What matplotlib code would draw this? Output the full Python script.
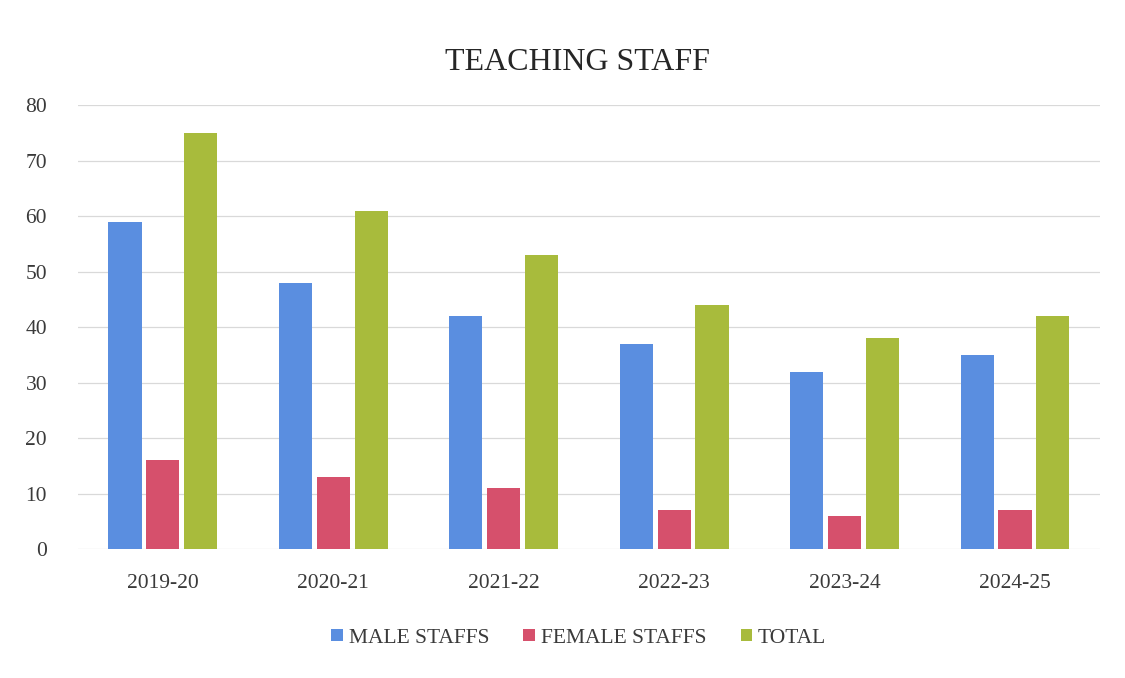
import matplotlib
matplotlib.use("Agg")
import matplotlib.pyplot as plt
import numpy as np

years = ["2019-20", "2020-21", "2021-22", "2022-23", "2023-24", "2024-25"]
male = [59, 48, 42, 37, 32, 35]
female = [16, 13, 11, 7, 6, 7]
total = [75, 61, 53, 44, 38, 42]
series_names = ["MALE STAFFS", "FEMALE STAFFS", "TOTAL"]
colors = ["#5a8ee0", "#d6506c", "#a8bb3c"]

plt.rcParams['font.family'] = ['Liberation Serif', 'DejaVu Serif']

fig = plt.figure(figsize=(11.25, 6.78), dpi=100)
ax = fig.add_axes([0.069, 0.19, 0.909, 0.655])

x = np.arange(len(years))
w = 0.195
off = 0.222
for i, (vals, name, c) in enumerate(zip([male, female, total], series_names, colors)):
    ax.bar(x + (i - 1) * off, vals, width=w, color=c, label=name, zorder=3)

ax.set_xlim(-0.5, len(years) - 0.5)
ax.set_ylim(0, 80)
ax.set_yticks(range(0, 81, 10))
ax.grid(axis='y', color='#d9d9d9', linewidth=0.9, zorder=0)
for s in ax.spines.values():
    s.set_visible(False)
ax.tick_params(axis='both', length=0, labelsize=15.5, colors='#3a3a3a')
ax.tick_params(axis='y', pad=22)
ax.tick_params(axis='x', pad=18)
ax.set_xticks(x)
ax.set_xticklabels(years)

fig.text(0.513, 0.908, "TEACHING STAFF", ha='center', va='center', fontsize=23, color='#262626')

leg = ax.legend(loc='upper center', bbox_to_anchor=(0.49, -0.135), ncol=3, frameon=False,
                fontsize=15.5, handlelength=0.55, handleheight=0.55, handletextpad=0.25,
                columnspacing=1.6, labelcolor='#3a3a3a')

fig.savefig("out.png", dpi=100)
